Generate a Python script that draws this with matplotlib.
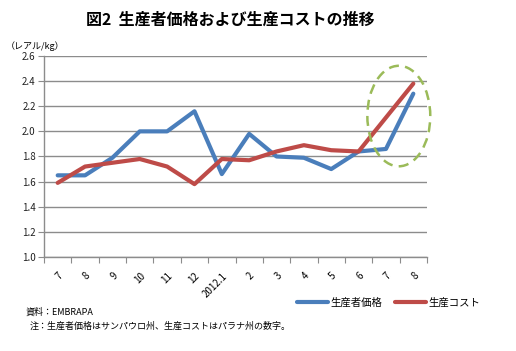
import matplotlib
matplotlib.use('Agg')
import matplotlib.pyplot as plt
from matplotlib.patches import Ellipse
import numpy as np

plt.rcParams['font.family'] = ['Noto Sans CJK JP', 'DejaVu Sans']

# ── data ──────────────────────────────────────────────────────────────────
months = ['7', '8', '9', '10', '11', '12', '2012.1', '2', '3', '4', '5', '6', '7', '8']
producer_price = [1.65, 1.65, 1.79, 2.00, 2.00, 2.16, 1.66, 1.98, 1.80, 1.79, 1.70, 1.84, 1.86, 2.30]
production_cost = [1.59, 1.72, 1.75, 1.78, 1.72, 1.58, 1.78, 1.77, 1.84, 1.89, 1.85, 1.84, 2.11, 2.38]
yticks = [1.0, 1.2, 1.4, 1.6, 1.8, 2.0, 2.2, 2.4, 2.6]

BLUE = '#4a7ebb'
RED = '#be4b48'
GREEN = '#9bbb59'
GRID = '#8c8c8c'

fig = plt.figure(figsize=(5.16, 3.51), dpi=100)
ax = fig.add_axes([0.0853, 0.2678, 0.7422, 0.5727])

x = np.arange(len(months))
ax.plot(x, producer_price, color=BLUE, lw=3.0, label='生産者価格', solid_capstyle='round', zorder=3)
ax.plot(x, production_cost, color=RED, lw=3.0, label='生産コスト', solid_capstyle='round', zorder=3)

# highlight of the last two months
ell = Ellipse((12.47, 2.122), width=2.3, height=0.80, fill=False,
              edgecolor=GREEN, lw=1.8, ls=(0, (4, 2.5)), clip_on=False, zorder=4)
ax.add_patch(ell)

ax.set_xlim(-0.5, len(months) - 0.5)
ax.set_ylim(1.0, 2.6)
ax.set_yticks(yticks)
ax.set_yticklabels([f'{v:.1f}' for v in yticks], fontsize=7, color='#222222')
ax.yaxis.grid(True, color=GRID, lw=1.0)
ax.set_axisbelow(True)

# ticks at category boundaries, labels at centres
ax.set_xticks(np.arange(len(months) + 1) - 0.5)
ax.set_xticklabels([])
ax.set_xticks(x, minor=True)
ax.set_xticklabels(months, minor=True, rotation=45, fontsize=7,
                   ha='right', va='top', rotation_mode='anchor')
ax.tick_params(axis='x', which='minor', length=0, pad=10)
ax.tick_params(axis='x', which='major', length=4, color=GRID, direction='out')
ax.tick_params(axis='y', length=4, color=GRID, direction='out', pad=2)

for s in ['top', 'right']:
    ax.spines[s].set_visible(False)
for s in ['left', 'bottom']:
    ax.spines[s].set_color(GRID)
    ax.spines[s].set_linewidth(1.0)

fig.text(0.446, 0.943, '図2  生産者価格および生産コストの推移', ha='center', va='center',
         fontsize=11.5, fontweight='bold')
fig.text(0.012, 0.868, '（レアル/kg）', ha='left', va='center', fontsize=6.5)

ax.legend(loc='center', bbox_to_anchor=(0.9, -0.228), ncol=2, frameon=False,
          fontsize=7.5, handlelength=3.0, handletextpad=0.2, columnspacing=1.2)

fig.text(0.05, 0.112, '資料：EMBRAPA', ha='left', va='center', fontsize=6.5)
fig.text(0.058, 0.07, '注：生産者価格はサンパウロ州、生産コストはパラナ州の数字。',
         ha='left', va='center', fontsize=6.5)

fig.savefig('out.png', dpi=100)
